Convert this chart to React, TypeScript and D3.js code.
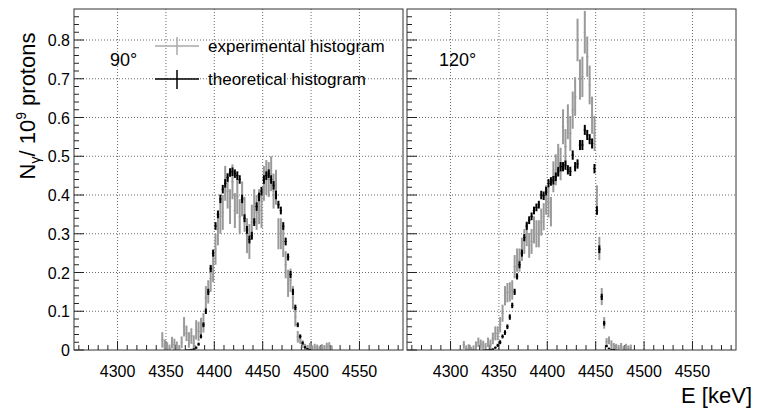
import React from "react";
import * as d3 from "d3";

const W = 757;
const H = 415;
const BIN = 2.5;

// Panel 90°
const theo90Start = 4371.25;
const theo90 = [0, 0, 0.001, 0.002, 0.006, 0.015, 0.035, 0.065, 0.10, 0.15, 0.21, 0.25, 0.32, 0.35, 0.39, 0.415, 0.43, 0.445, 0.458, 0.46, 0.455, 0.45, 0.44, 0.39, 0.34, 0.31, 0.285, 0.295, 0.33, 0.37, 0.395, 0.41, 0.44, 0.45, 0.455, 0.44, 0.425, 0.40, 0.375, 0.36, 0.32, 0.28, 0.24, 0.195, 0.15, 0.11, 0.065, 0.035, 0.018, 0.007, 0.003, 0.001];
const theo90Err = [0.001, 0.001, 0.002, 0.002, 0.003, 0.004, 0.005, 0.006, 0.007, 0.008, 0.009, 0.009, 0.01, 0.01, 0.011, 0.011, 0.011, 0.011, 0.011, 0.011, 0.011, 0.011, 0.011, 0.011, 0.01, 0.01, 0.01, 0.01, 0.01, 0.011, 0.011, 0.011, 0.011, 0.011, 0.011, 0.011, 0.011, 0.011, 0.01, 0.01, 0.01, 0.01, 0.009, 0.009, 0.008, 0.007, 0.006, 0.005, 0.004, 0.003, 0.002, 0.001];
const exp90Start = 4346.25;
const exp90 = [0.026, 0.012, 0.008, 0.004, 0.019, 0.014, 0.010, 0.003, 0.02, 0.06, 0.043, 0.026, 0.036, 0.018, 0.052, 0.048, 0.058, 0.07, 0.135, 0.15, 0.185, 0.21, 0.26, 0.31, 0.345, 0.355, 0.43, 0.41, 0.37, 0.434, 0.36, 0.396, 0.344, 0.39, 0.35, 0.295, 0.28, 0.33, 0.37, 0.355, 0.37, 0.36, 0.43, 0.445, 0.44, 0.455, 0.41, 0.42, 0.30, 0.30, 0.28, 0.22, 0.172, 0.18, 0.135, 0.086, 0.034, 0.028, 0.015, 0.008, 0.005, 0.01, 0.004, 0.008, 0.006, 0.003, 0.007, 0.005, 0.009, 0.01, 0.004];
const exp90Err = [0.02, 0.015, 0.012, 0.01, 0.015, 0.015, 0.012, 0.01, 0.015, 0.025, 0.02, 0.02, 0.02, 0.02, 0.025, 0.025, 0.025, 0.025, 0.03, 0.03, 0.035, 0.035, 0.04, 0.04, 0.045, 0.045, 0.045, 0.045, 0.045, 0.045, 0.045, 0.045, 0.045, 0.045, 0.045, 0.045, 0.045, 0.045, 0.045, 0.045, 0.045, 0.045, 0.045, 0.045, 0.045, 0.045, 0.045, 0.045, 0.04, 0.04, 0.04, 0.035, 0.035, 0.03, 0.03, 0.025, 0.015, 0.012, 0.01, 0.008, 0.008, 0.008, 0.008, 0.008, 0.008, 0.008, 0.008, 0.008, 0.01, 0.01, 0.008];

// Panel 120°
const theo120Start = 4336.25;
const theo120 = [0, 0, 0.001, 0.002, 0.006, 0.012, 0.02, 0.035, 0.045, 0.06, 0.085, 0.115, 0.15, 0.19, 0.22, 0.25, 0.29, 0.32, 0.335, 0.345, 0.36, 0.368, 0.375, 0.40, 0.398, 0.41, 0.43, 0.435, 0.438, 0.447, 0.46, 0.473, 0.473, 0.477, 0.465, 0.461, 0.503, 0.473, 0.48, 0.529, 0.529, 0.568, 0.555, 0.544, 0.533, 0.468, 0.36, 0.26, 0.137, 0.069, 0.01, 0.004, 0.002, 0.001];
const theo120Err = [0.001, 0.001, 0.002, 0.002, 0.003, 0.004, 0.005, 0.005, 0.006, 0.006, 0.007, 0.007, 0.008, 0.008, 0.009, 0.009, 0.009, 0.01, 0.01, 0.01, 0.01, 0.01, 0.01, 0.011, 0.011, 0.011, 0.011, 0.011, 0.011, 0.011, 0.012, 0.012, 0.012, 0.012, 0.012, 0.012, 0.012, 0.012, 0.012, 0.013, 0.013, 0.013, 0.013, 0.013, 0.013, 0.012, 0.011, 0.01, 0.008, 0.006, 0.003, 0.002, 0.001, 0.001];
const exp120Start = 4313.75;
const exp120 = [0.013, 0.002, 0.005, 0.0, 0.002, 0.01, 0.02, 0.015, 0.012, 0.008, 0.02, 0.015, 0.03, 0.043, 0.043, 0.065, 0.095, 0.14, 0.148, 0.15, 0.155, 0.215, 0.232, 0.232, 0.26, 0.28, 0.30, 0.27, 0.28, 0.31, 0.30, 0.30, 0.33, 0.344, 0.387, 0.38, 0.357, 0.447, 0.465, 0.49, 0.48, 0.576, 0.525, 0.589, 0.559, 0.619, 0.654, 0.80, 0.698, 0.705, 0.82, 0.757, 0.684, 0.606, 0.559, 0.387, 0.262, 0.138, 0.07, 0.021, 0.025, 0.015, 0.01, 0.008, 0.005, 0.01, 0.003, 0.008, 0.004, 0.006];
const exp120Err = [0.01, 0.01, 0.01, 0.008, 0.01, 0.012, 0.012, 0.012, 0.012, 0.01, 0.012, 0.012, 0.015, 0.018, 0.018, 0.02, 0.022, 0.025, 0.025, 0.025, 0.025, 0.03, 0.03, 0.03, 0.03, 0.032, 0.032, 0.032, 0.032, 0.035, 0.035, 0.035, 0.035, 0.035, 0.038, 0.038, 0.038, 0.04, 0.04, 0.042, 0.042, 0.045, 0.045, 0.045, 0.045, 0.048, 0.05, 0.055, 0.052, 0.052, 0.055, 0.052, 0.05, 0.048, 0.045, 0.038, 0.03, 0.022, 0.015, 0.01, 0.01, 0.01, 0.008, 0.008, 0.008, 0.008, 0.008, 0.008, 0.008, 0.008];

const xTicks = [4300, 4350, 4400, 4450, 4500, 4550];
const yTicks = [0, 0.1, 0.2, 0.3, 0.4, 0.5, 0.6, 0.7, 0.8];
const yTickLabels = ["0", "0.1", "0.2", "0.3", "0.4", "0.5", "0.6", "0.7", "0.8"];
const angleLabels = ["90°", "120°"];
const legendLabels = ["experimental histogram", "theoretical histogram"];

const X_DOMAIN: [number, number] = [4255, 4595];
const Y_DOMAIN: [number, number] = [0, 0.88];
const TOP = 9;
const BOTTOM = 350;
const FONT = "'Liberation Sans', Arial, Helvetica, sans-serif";
const GRAY = "#9a9a9a";

const y = d3.scaleLinear().domain(Y_DOMAIN).range([BOTTOM, TOP]);

function Series({ x, start, vals, errs, color, width, id }: any) {
  return (
    <g clipPath={`url(#${id})`} stroke={color} strokeWidth={width} fill="none">
      {vals.map((v: number, i: number) => {
        const c = start + i * BIN;
        const e = errs[i];
        const yc = y(v);
        return (
          <g key={i}>
            <line x1={x(c - BIN / 2)} x2={x(c + BIN / 2)} y1={yc} y2={yc} strokeWidth={1} />
            <line x1={x(c)} x2={x(c)} y1={y(Math.max(0, v - e))} y2={y(v + e)} />
          </g>
        );
      })}
    </g>
  );
}

function Panel({ x0, x1, showLabels, label, id, exp, theo }: any) {
  const x = d3.scaleLinear().domain(X_DOMAIN).range([x0, x1]);
  const minorX = d3.range(4260, 4595, 10);
  const minorY = d3.range(0, 0.87, 0.02);
  return (
    <g>
      <defs>
        <clipPath id={id}>
          <rect x={x0} y={TOP} width={x1 - x0} height={BOTTOM - TOP} />
        </clipPath>
      </defs>
      <g stroke="#444" strokeWidth={0.8} strokeDasharray="1 2">
        {xTicks.map((t) => (
          <line key={"gx" + t} x1={x(t)} x2={x(t)} y1={TOP} y2={BOTTOM} />
        ))}
        {yTicks.slice(1).map((t) => (
          <line key={"gy" + t} x1={x0} x2={x1} y1={y(t)} y2={y(t)} />
        ))}
      </g>
      <g stroke="#222" strokeWidth={1}>
        {minorX.map((t) => {
          const major = t % 50 === 0;
          return <line key={"tx" + t} x1={x(t)} x2={x(t)} y1={BOTTOM} y2={BOTTOM - (major ? 9 : 5)} />;
        })}
        {minorY.map((t, i) => {
          const major = i % 5 === 0;
          return <line key={"ty" + i} x1={x0} x2={x0 + (major ? 10 : 5)} y1={y(t)} y2={y(t)} />;
        })}
      </g>
      <Series x={x} id={id} start={exp.start} vals={exp.vals} errs={exp.errs} color={GRAY} width={2} />
      <Series x={x} id={id} start={theo.start} vals={theo.vals} errs={theo.errs} color="#000" width={2} />
      <rect x={x0} y={TOP} width={x1 - x0} height={BOTTOM - TOP} fill="none" stroke="#333" strokeWidth={1} />
      <g fontFamily={FONT} fontSize={16} textAnchor="middle" fill="#000">
        {xTicks.map((t) => (
          <text key={"lx" + t} x={x(t)} y={377}>
            {t}
          </text>
        ))}
      </g>
      {showLabels && (
        <g fontFamily={FONT} fontSize={16} textAnchor="end" fill="#000">
          {yTicks.map((t, i) => (
            <text key={"ly" + t} x={70} y={y(t) + 6}>
              {yTickLabels[i]}
            </text>
          ))}
        </g>
      )}
      <text x={x0 + (showLabels ? 36 : 32)} y={66} fontFamily={FONT} fontSize={18} fill="#000">
        {label}
      </text>
    </g>
  );
}

export default function App() {
  return (
    <svg width={W} height={H} style={{ position: "absolute", left: 0, top: 0, background: "#fff" }}>
      <rect x={0} y={0} width={W} height={H} fill="#fff" />
      <Panel
        x0={74}
        x1={403}
        showLabels
        label={angleLabels[0]}
        id="clipL"
        exp={{ start: exp90Start, vals: exp90, errs: exp90Err }}
        theo={{ start: theo90Start, vals: theo90, errs: theo90Err }}
      />
      <Panel
        x0={407}
        x1={736}
        showLabels={false}
        label={angleLabels[1]}
        id="clipR"
        exp={{ start: exp120Start, vals: exp120, errs: exp120Err }}
        theo={{ start: theo120Start, vals: theo120, errs: theo120Err }}
      />
      <g>
        <line x1={155} x2={199} y1={46} y2={46} stroke="#aaa" strokeWidth={1.5} />
        <line x1={177} x2={177} y1={37} y2={55} stroke="#aaa" strokeWidth={1.5} />
        <line x1={155} x2={199} y1={79} y2={79} stroke="#000" strokeWidth={1.5} />
        <line x1={177} x2={177} y1={70} y2={89} stroke="#000" strokeWidth={1.5} />
        <text x={208} y={52} fontFamily={FONT} fontSize={17} fill="#000">
          {legendLabels[0]}
        </text>
        <text x={208} y={85} fontFamily={FONT} fontSize={17} fill="#000">
          {legendLabels[1]}
        </text>
      </g>
      <text
        transform="translate(35,106) rotate(-90)"
        textAnchor="middle"
        fontFamily={FONT}
        fontSize={22}
        fill="#000"
      >
        <tspan>N</tspan>
        <tspan fontSize={14} dy={5}>γ</tspan>
        <tspan dy={-5}>/ 10</tspan>
        <tspan fontSize={14} dy={-9}>9</tspan>
        <tspan dy={9}> protons</tspan>
      </text>
      <text x={752} y={403} textAnchor="end" fontFamily={FONT} fontSize={22} fill="#000">
        E [keV]
      </text>
    </svg>
  );
}
